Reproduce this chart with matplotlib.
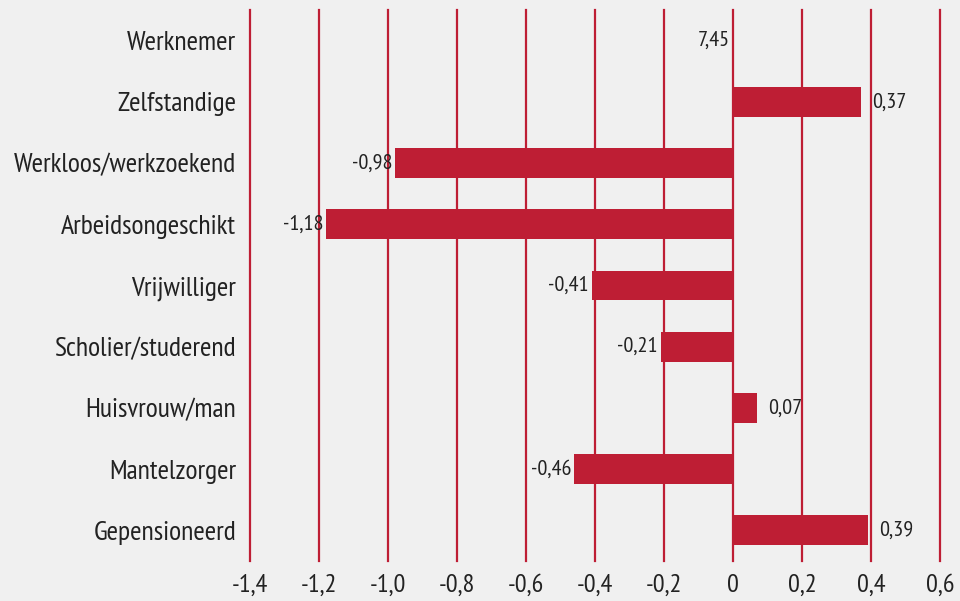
import matplotlib
matplotlib.use("Agg")
import matplotlib.pyplot as plt
import matplotlib.font_manager as fm

categories = ["Werknemer", "Zelfstandige", "Werkloos/werkzoekend", "Arbeidsongeschikt",
              "Vrijwilliger", "Scholier/studerend", "Huisvrouw/man", "Mantelzorger", "Gepensioneerd"]
values = [0.0, 0.37, -0.98, -1.18, -0.41, -0.21, 0.07, -0.46, 0.39]
value_labels = ["7,45", "0,37", "-0,98", "-1,18", "-0,41", "-0,21", "0,07", "-0,46", "0,39"]
xticks = [-1.4, -1.2, -1.0, -0.8, -0.6, -0.4, -0.2, 0, 0.2, 0.4, 0.6]
xtick_labels = ["-1,4", "-1,2", "-1,0", "-0,8", "-0,6", "-0,4", "-0,2", "0", "0,2", "0,4", "0,6"]

names = {f.name for f in fm.fontManager.ttflist}
font = "DejaVu Sans"
for cand in ["PT Sans Narrow", "Open Sans Condensed", "Fira Sans Condensed",
             "Roboto Condensed", "Asap Condensed", "Archivo Narrow", "Liberation Sans Narrow"]:
    if cand in names:
        font = cand
        break
plt.rcParams['font.family'] = [font, 'DejaVu Sans']

bg = "#f0f0f0"
red = "#be1e34"
txt = "#222222"

fig = plt.figure(figsize=(9.6, 6.01), dpi=100, facecolor=bg)
ax = fig.add_axes([250/960, 1 - 561/601, 690/960, (561-10)/601])
ax.set_facecolor(bg)

y = list(range(len(categories)))
ax.barh(y, values, height=0.49, color=red, zorder=3)
ax.set_xlim(-1.4, 0.6)
ax.set_ylim(len(categories) - 0.5, -0.5)
for xt in xticks:
    ax.axvline(xt, color=red, lw=1.6, zorder=1, clip_on=False)

for yi, v, lab in zip(y, values, value_labels):
    if v > 0:
        ax.annotate(lab, (v, yi), xytext=(8, 0), textcoords="offset points",
                    ha="left", va="center", fontsize=16, color=txt)
    else:
        ax.annotate(lab, (v, yi), xytext=(-2, 0), textcoords="offset points",
                    ha="right", va="center", fontsize=16, color=txt)

ax.set_yticks(y)
ax.set_yticklabels(categories, fontsize=20, color=txt)
ax.set_xticks(xticks)
ax.set_xticklabels(xtick_labels, fontsize=19, color=txt)
ax.tick_params(axis="both", length=0)
ax.tick_params(axis="y", pad=10)
ax.tick_params(axis="x", pad=9)
for s in ax.spines.values():
    s.set_visible(False)

fig.savefig("out.png", dpi=100, facecolor=bg)
